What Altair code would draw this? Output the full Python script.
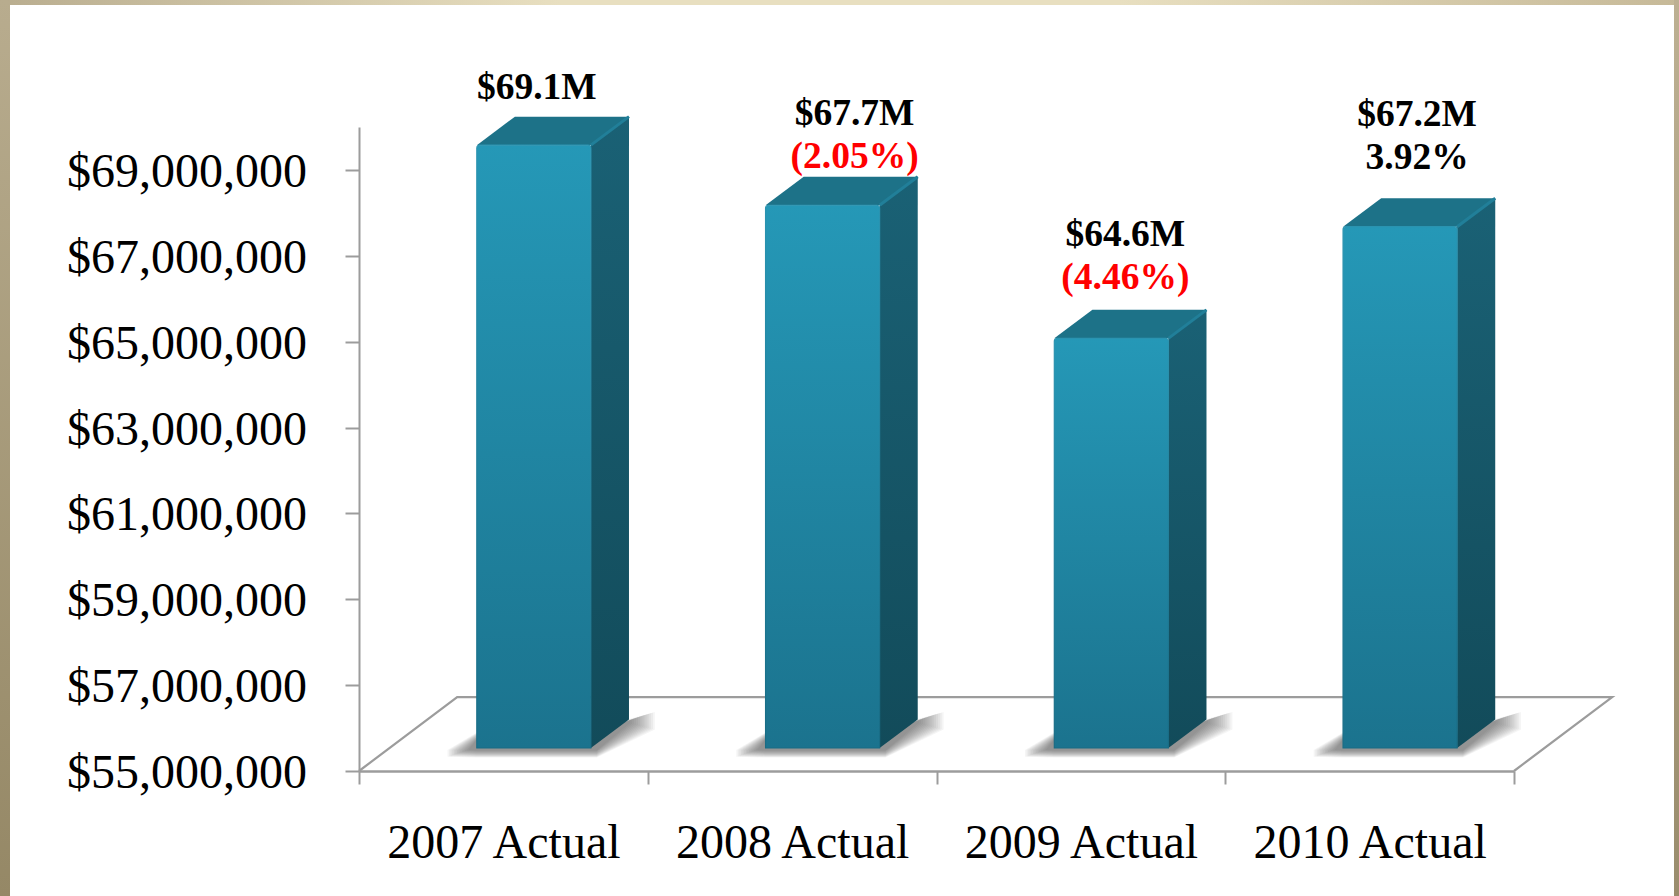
import altair as alt
import pandas as pd

# Operating totals per year, in dollars
categories = ["2007 Actual", "2008 Actual", "2009 Actual", "2010 Actual"]
totals = [69_100_000, 67_700_000, 64_600_000, 67_200_000]
total_labels = ["$69.1M", "$67.7M", "$64.6M", "$67.2M"]
change_labels = [None, "(2.05%)", "(4.46%)", "3.92%"]
change_colors = [None, "#ff0000", "#ff0000", "#000000"]
tick_values = [55e6, 57e6, 59e6, 61e6, 63e6, 65e6, 67e6, 69e6]

# Projection of the pseudo-3D boxes, in x-scale units and dollars
Y_MIN, Y_MAX = 55e6, 70e6
BAR_LEFT, BAR_RIGHT = 0.408, 0.803
DEPTH_X, DEPTH_Y = 0.132, 0.664e6
FLOOR_X, FLOOR_Y = 0.34, 1.72e6
FONT = "Liberation Serif"
GREY = "#9c9c9c"


def vertical(top, bottom):
    return alt.Gradient(gradient="linear", x1=0, x2=0, y1=0, y2=1,
                        stops=[alt.GradientStop(color=top, offset=0),
                               alt.GradientStop(color=bottom, offset=1)])


def horizontal(*colors):
    n = len(colors) - 1
    return alt.Gradient(gradient="linear", x1=0, x2=1, y1=0, y2=0,
                        stops=[alt.GradientStop(color=c, offset=i / n) for i, c in enumerate(colors)])


y_scale = alt.Scale(domain=[Y_MIN, Y_MAX], nice=False)
y_axis = alt.Axis(values=tick_values, format="$,.0f", labelFont=FONT, labelFontSize=48,
                  labelColor="#000000", labelPadding=38.5, labelOffset=2.5, labelLimit=400, tickSize=14, tickWidth=2,
                  tickColor=GREY, domainColor=GREY, domainWidth=2, grid=False, labelOverlap=False)

x_num = alt.X("x:Q", scale=alt.Scale(domain=[0, 4]), axis=None)
y_num = alt.Y("y:Q", title=None, scale=y_scale, axis=y_axis)
y2_num = alt.Y2("y2:Q")

front, side, top_face, ridge, shadow = [], [], [], [], []
for i, v in enumerate(totals):
    xl, xr = i + BAR_LEFT, i + BAR_RIGHT
    front.append(dict(bar=i, x=xl, x2=xr, y=v, y2=Y_MIN))
    side += [dict(bar=i, x=xr, y=v, y2=Y_MIN),
             dict(bar=i, x=xr + DEPTH_X, y=v + DEPTH_Y, y2=Y_MIN + DEPTH_Y)]
    top_face += [dict(bar=i, x=xl, y=v, y2=v),
                 dict(bar=i, x=xl + DEPTH_X, y=v + DEPTH_Y, y2=v),
                 dict(bar=i, x=xr, y=v + DEPTH_Y, y2=v),
                 dict(bar=i, x=xr + DEPTH_X, y=v + DEPTH_Y, y2=v + DEPTH_Y)]
    ridge += [dict(bar=i, x=xr, y=v), dict(bar=i, x=xr + DEPTH_X, y=v + DEPTH_Y)]
    # Nested footprints build up a soft contact shadow on the floor
    for k in range(14):
        dy = k * 0.012e6
        shadow += [
            dict(bar=i, k=k, x=xl - 0.03 - k * 0.0055, y=Y_MIN + 0.49e6, y2=Y_MIN + 0.49e6 - dy),
            dict(bar=i, k=k, x=xl, y=Y_MIN + 0.74e6 + dy, y2=Y_MIN + 0.47e6 - dy),
            dict(bar=i, k=k, x=xr + 0.02, y=Y_MIN + 0.80e6 + dy, y2=Y_MIN + 0.47e6 - dy),
            dict(bar=i, k=k, x=xr + DEPTH_X + 0.005 + k * 0.0065, y=Y_MIN + 1.22e6 + dy, y2=Y_MIN + 1.12e6 - dy),
        ]

# Slide background: tan bands along the top and both sides
bands = [
    (-359, 1320, -127, -122, horizontal("#b9ad8f", "#e8dfc0", "#e8dfc0", "#c6b998")),
    (-359, -349, -127, 769, vertical("#b8ac8e", "#958866")),
    (1315, 1320, -127, 769, vertical("#bdb092", "#9a8d6d")),
]
background = [
    alt.Chart(pd.DataFrame({"a": [0]})).mark_rect(color=c).encode(
        x=alt.value(x0), x2=alt.value(x1), y=alt.value(y0), y2=alt.value(y1))
    for x0, x1, y0, y1, c in bands
]

# Invisible bars carry the two visible axes
axes = alt.Chart(pd.DataFrame({"cat": categories, "total": totals})).mark_bar(opacity=0).encode(
    x=alt.X("cat:N", sort=categories, title=None,
            scale=alt.Scale(paddingInner=0, paddingOuter=0),
            axis=alt.Axis(labelAngle=0, labelFont=FONT, labelFontSize=48, labelColor="#000000",
                          labelPadding=35, labelLimit=400, tickBand="extent", tickSize=13, tickWidth=2,
                          tickColor=GREY, domainColor=GREY, domainWidth=2.5, labelOverlap=False)),
    y=alt.Y("total:Q", title=None, scale=y_scale, axis=y_axis),
)

# Floor outline: back edge plus the two receding sides
floor_rows = [
    dict(x=0, y=Y_MIN), dict(x=FLOOR_X, y=Y_MIN + FLOOR_Y),
    dict(x=4 + FLOOR_X, y=Y_MIN + FLOOR_Y), dict(x=4, y=Y_MIN),
]
floor_rows = [dict(r, o=j) for j, r in enumerate(floor_rows)]
floor = alt.Chart(pd.DataFrame(floor_rows)).mark_line(color=GREY, strokeWidth=2.2).encode(
    x=x_num, y=y_num, order="o:Q")

shadows = alt.Chart(pd.DataFrame(shadow)).mark_area(color="#444444", opacity=0.05, interpolate="linear").encode(
    x=x_num, y=y_num, y2=y2_num, detail=["bar:N", "k:N"])

LIFT_TOP, LIFT_BASE = -20.5, -23

side_layer = alt.Chart(pd.DataFrame(side)).mark_area(
    color=vertical("#1a6175", "#124b5a"), interpolate="linear", yOffset=LIFT_TOP, y2Offset=LIFT_BASE,
).encode(x=x_num, y=y_num, y2=y2_num, detail="bar:N")

top_layer = alt.Chart(pd.DataFrame(top_face)).mark_area(
    color="#1d7288", interpolate="linear", yOffset=LIFT_TOP, y2Offset=LIFT_TOP,
).encode(x=x_num, y=y_num, y2=y2_num, detail="bar:N")

ridge_layer = alt.Chart(pd.DataFrame(ridge)).mark_line(
    color="#217f99", strokeWidth=3, yOffset=LIFT_TOP,
).encode(x=x_num, y=y_num, detail="bar:N")

front_layer = alt.Chart(pd.DataFrame(front)).mark_rect(
    color=vertical("#2598b7", "#1b738e"), stroke=vertical("#2a93b0", "#186b84"), strokeWidth=1.2,
    cornerRadiusTopLeft=3, cornerRadiusTopRight=3, yOffset=LIFT_TOP, y2Offset=LIFT_BASE,
).encode(x=x_num, x2=alt.X2("x2:Q"), y=y_num, y2=y2_num)

# Value and change captions, hand-placed above each box: (dx, first line dy, second line dy)
caption_nudges = [(3, -67, None), (32, -101, -58), (14, -113, -70), (17, -121, -78)]
captions = []
for i, (dx, dy1, dy2) in enumerate(caption_nudges):
    row = pd.DataFrame([dict(x=i + (BAR_LEFT + BAR_RIGHT) / 2, y=totals[i],
                             first=total_labels[i], second=change_labels[i] or "")])
    captions.append(alt.Chart(row).mark_text(
        font=FONT, fontSize=37.5, fontWeight="bold", color="#000000", align="center",
        baseline="alphabetic", dx=dx, dy=dy1).encode(x=x_num, y=y_num, text="first:N"))
    if change_labels[i]:
        captions.append(alt.Chart(row).mark_text(
            font=FONT, fontSize=37.5, fontWeight="bold", color=change_colors[i], align="center",
            baseline="alphabetic", dx=dx, dy=dy2).encode(x=x_num, y=y_num, text="second:N"))

chart = alt.layer(
    *background, axes, floor, shadows, side_layer, top_layer, ridge_layer, front_layer, *captions
).resolve_scale(x="independent").properties(
    width=1155, height=644,
    padding={"left": 359, "top": 127, "right": 165, "bottom": 125},
    autosize=alt.AutoSizeParams(type="none"),
    background="#ffffff",
).configure_view(stroke=None)

chart.save("out.html", embed_options={"renderer": "svg", "actions": False})
